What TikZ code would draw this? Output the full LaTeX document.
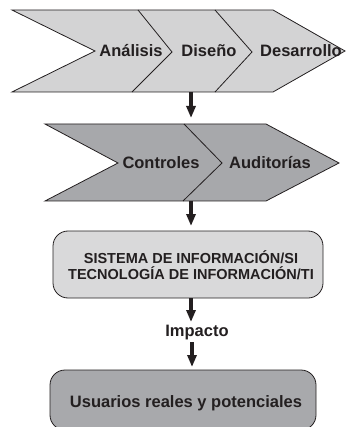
\documentclass[tikz,border=0pt]{standalone}
\usepackage{fontspec}
\setmainfont{Liberation Sans}
\usetikzlibrary{arrows.meta}
\definecolor{lightband}{RGB}{211,211,212}
\definecolor{darkband}{RGB}{167,168,171}
\definecolor{lightbox}{RGB}{217,217,218}
\definecolor{darkbox}{RGB}{168,169,172}
\definecolor{ink}{RGB}{35,31,32}
\tikzset{
  outline/.style={draw=ink, line width=0.8pt},
  lbl/.style={font=\fontsize{16.5}{18}\selectfont\bfseries, text=ink, anchor=base, inner sep=0pt},
  small/.style={font=\fontsize{14.5}{16}\selectfont\bfseries, text=ink, align=center, inner sep=0pt},
  arr/.style={draw=ink, line width=3.6pt, -{Triangle[length=12pt,width=9pt]}},
  rbox/.style={outline, rounded corners=15pt, inner sep=0pt},
}
\begin{document}
\begin{tikzpicture}[x=1pt,y=-1pt]
\useasboundingbox (0,0) rectangle (348,427);
\clip (0,0) rectangle (348,427);
% top chevron band
\path[outline, fill=lightband] (12,10) -- (273,10) -- (345,51) -- (273,92) -- (12,92) -- (95,51) -- cycle;
\draw[outline] (138,10) -- (172,52) -- (132,92);
\draw[outline] (215,10) -- (252,52) -- (215,92);
\node[lbl] (ana) at (131,57) {Análisis};
\node[lbl] (dis) at (209,57) {Diseño};
\node[lbl] (des) at (301,57) {Desarrollo};
\coordinate (b1) at (191,92);
% second chevron band
\path[outline, fill=darkband] (45,124) -- (266,124) -- (339,163) -- (266,201) -- (45,201) -- (118,163) -- cycle;
\draw[outline] (184,124) -- (222,163) -- (183,201);
\node[lbl] (con) at (161,169) {Controles};
\node[lbl] (aud) at (270,169) {Auditorías};
\coordinate (t2) at (191,118);
\coordinate (b2) at (191,201);
% SI / TI box
\node[rbox, fill=lightbox, minimum width=270pt, minimum height=67pt] (si) at (188,264.5) {};
\node[small] (sit) at (191,265.5) {SISTEMA DE INFORMACIÓN/SI\\TECNOLOGÍA DE INFORMACIÓN/TI};
\coordinate (t3) at (191,226);
% impacto
\node[lbl] (imp) at (197,336.5) {Impacto};
\coordinate (t4) at (191,322);
\coordinate (s5) at (192,342);
% users box
\node[rbox, fill=darkbox, minimum width=266pt, minimum height=60pt] (usr) at (183,400) {};
\node[lbl] (usrt) at (186,407) {Usuarios reales y potenciales};
\coordinate (t5) at (192,367);
% arrows
\draw[arr] (b1) -- (t2);
\draw[arr] (b2) -- (t3);
\draw[arr] (si.south -| t4) -- (t4);
\draw[arr] (s5) -- (t5);
\end{tikzpicture}
\end{document}
